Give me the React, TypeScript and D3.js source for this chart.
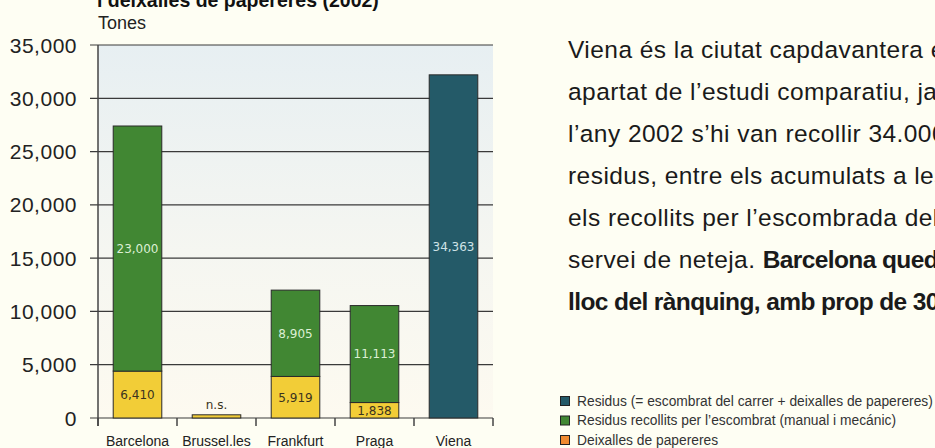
import React from "react";
import * as d3 from "d3";

const categories = ["Barcelona", "Brussel.les", "Frankfurt", "Praga", "Viena"];
// values (tones)
const papereres = [4400, 300, 3900, 1450, 0];
const escombrat = [23000, 0, 8100, 9100, 0];
const residus = [0, 0, 0, 0, 32200];
const papererLabels = ["6,410", "n.s.", "5,919", "1,838", ""];
const escombratLabels = ["23,000", "", "8,905", "11,113", ""];
const residusLabels = ["", "", "", "", "34,363"];
const yTicks = [0, 5000, 10000, 15000, 20000, 25000, 30000, 35000];

const legendItems = [
  { label: "Residus (= escombrat del carrer + deixalles de papereres)", color: "#245a68" },
  { label: "Residus recollits per l’escombrat (manual i mecánic)", color: "#418733" },
  { label: "Deixalles de papereres", color: "#f08a30" },
];

const paragraph: { t: string; b?: boolean }[][] = [
  [{ t: "Viena és la ciutat capdavantera en aquest" }],
  [{ t: "apartat de l’estudi comparatiu, ja que" }],
  [{ t: "l’any 2002 s’hi van recollir 34.000 tones de" }],
  [{ t: "residus, entre els acumulats a les papereres" }],
  [{ t: "els recollits per l’escombrada dels carrers" }],
  [{ t: "servei de neteja. " }, { t: "Barcelona queda en segon", b: true }],
  [{ t: "lloc del rànquing, amb prop de 30.000 tones.", b: true }],
];

const W = 935;
const H = 448;
const plot = { left: 98, right: 493, top: 45, bottom: 418 };

export default function App() {
  const x = d3.scaleBand<string>().domain(categories).range([plot.left, plot.right]).padding(0);
  const y = d3.scaleLinear().domain([0, 35000]).range([plot.bottom, plot.top]);
  const bw = x.bandwidth() * 0.615;
  const off = (x.bandwidth() - bw) / 2;
  const fmt = d3.format(",");
  const boundaries = categories.map((c) => x(c)!).concat([plot.right]);

  return (
    <div style={{ position: "absolute", left: 0, top: 0 }}>
      <svg width={W} height={H} style={{ display: "block", background: "#fefef3" }}>
        <defs>
          <linearGradient id="bg" x1="0" y1="0" x2="0" y2="1">
            <stop offset="0" stopColor="#e7eff2" />
            <stop offset="0.55" stopColor="#f5f6f1" />
            <stop offset="1" stopColor="#fdfaf0" />
          </linearGradient>
        </defs>
        <rect width={W} height={H} fill="#fefef3" />
        <rect x={plot.left} y={plot.top} width={plot.right - plot.left} height={plot.bottom - plot.top} fill="url(#bg)" />

        {/* title */}
        <text x={97} y={7} fontFamily="Liberation Sans, Arial, sans-serif" fontSize={19.5} fontWeight="bold" fill="#111">
          i deixalles de papereres (2002)
        </text>
        <text x={98} y={29} fontFamily="Liberation Sans, Arial, sans-serif" fontSize={18} fill="#222">
          Tones
        </text>

        {/* gridlines + y ticks */}
        {yTicks.map((t) => (
          <g key={t}>
            <line x1={plot.left - 8} x2={plot.right} y1={y(t)} y2={y(t)} stroke="#3a3a3a" strokeWidth={1.2} />
            <text
              x={77}
              y={y(t)}
              dy="0.36em"
              textAnchor="end"
              fontFamily="Liberation Sans, Arial, sans-serif"
              fontSize={21}
              letterSpacing={0.5}
              fill="#222"
            >
              {fmt(t)}
            </text>
          </g>
        ))}

        {/* y axis line */}
        <line x1={plot.left} x2={plot.left} y1={plot.top} y2={plot.bottom + 8} stroke="#444" strokeWidth={1.5} />
        {/* x ticks */}
        {boundaries.map((b, i) => (
          <line key={i} x1={b} x2={b} y1={plot.bottom} y2={plot.bottom + 8} stroke="#444" strokeWidth={1.5} />
        ))}

        {/* bars */}
        {categories.map((c, i) => {
          const x0 = x(c)! + off;
          const yTop = y(papereres[i]);
          const gTop = y(papereres[i] + escombrat[i]);
          return (
            <g key={c}>
              {papereres[i] > 0 && (
                <rect x={x0} y={yTop} width={bw} height={y(0) - yTop} fill="#f2cd37" stroke="#2a2a2a" strokeWidth={1} />
              )}
              {escombrat[i] > 0 && (
                <rect x={x0} y={gTop} width={bw} height={yTop - gTop} fill="#418733" stroke="#2a2a2a" strokeWidth={1} />
              )}
              {residus[i] > 0 && (
                <rect x={x0} y={y(residus[i])} width={bw} height={y(0) - y(residus[i])} fill="#245a68" stroke="#2a2a2a" strokeWidth={1} />
              )}
            </g>
          );
        })}

        {/* bar labels */}
        {categories.map((c, i) => {
          const cx = x(c)! + x.bandwidth() / 2;
          const yTop = y(papereres[i]);
          const gTop = y(papereres[i] + escombrat[i]);
          const inside = papereres[i] > 1000;
          return (
            <g key={c + "l"} fontFamily="DejaVu Sans, Verdana, sans-serif" fontSize={12} textAnchor="middle">
              {papererLabels[i] && (
                <text
                  x={cx}
                  y={inside ? (yTop + y(0)) / 2 : yTop - 6}
                  dy={inside ? "0.36em" : "0"}
                  fill="#3a3320"
                >
                  {papererLabels[i]}
                </text>
              )}
              {escombratLabels[i] && (
                <text x={cx} y={(gTop + yTop) / 2} dy="0.36em" fill="#dcefd4">
                  {escombratLabels[i]}
                </text>
              )}
              {residusLabels[i] && (
                <text x={cx} y={(y(residus[i]) + y(0)) / 2} dy="0.36em" fill="#cfe2e6">
                  {residusLabels[i]}
                </text>
              )}
            </g>
          );
        })}

        {/* category labels */}
        {categories.map((c) => (
          <text
            key={c + "c"}
            x={x(c)! + x.bandwidth() / 2}
            y={446}
            textAnchor="middle"
            fontFamily="Liberation Sans, Arial, sans-serif"
            fontSize={14}
            fill="#222"
          >
            {c}
          </text>
        ))}

        {/* paragraph */}
        {paragraph.map((line, i) => (
          <text
            key={i}
            x={568}
            y={58 + i * 42}
            fontFamily="Liberation Sans, Arial, sans-serif"
            fontSize={24.5}
            fill="#1a1a1a"
          >
            {line.map((s, j) => (
              <tspan key={j} fontWeight={s.b ? "bold" : "normal"} letterSpacing={s.b ? -0.6 : 0.45}>
                {s.t}
              </tspan>
            ))}
          </text>
        ))}

        {/* legend */}
        {legendItems.map((l, i) => (
          <g key={l.label} transform={`translate(560, ${401 + i * 19.5})`}>
            <rect x={0.5} y={-4.5} width={9} height={9} fill={l.color} stroke="#222" strokeWidth={1} />
            <text x={17} y={0} dy="0.36em" fontFamily="Liberation Sans, Arial, sans-serif" fontSize={13.8} fill="#333">
              {l.label}
            </text>
          </g>
        ))}
      </svg>
    </div>
  );
}
